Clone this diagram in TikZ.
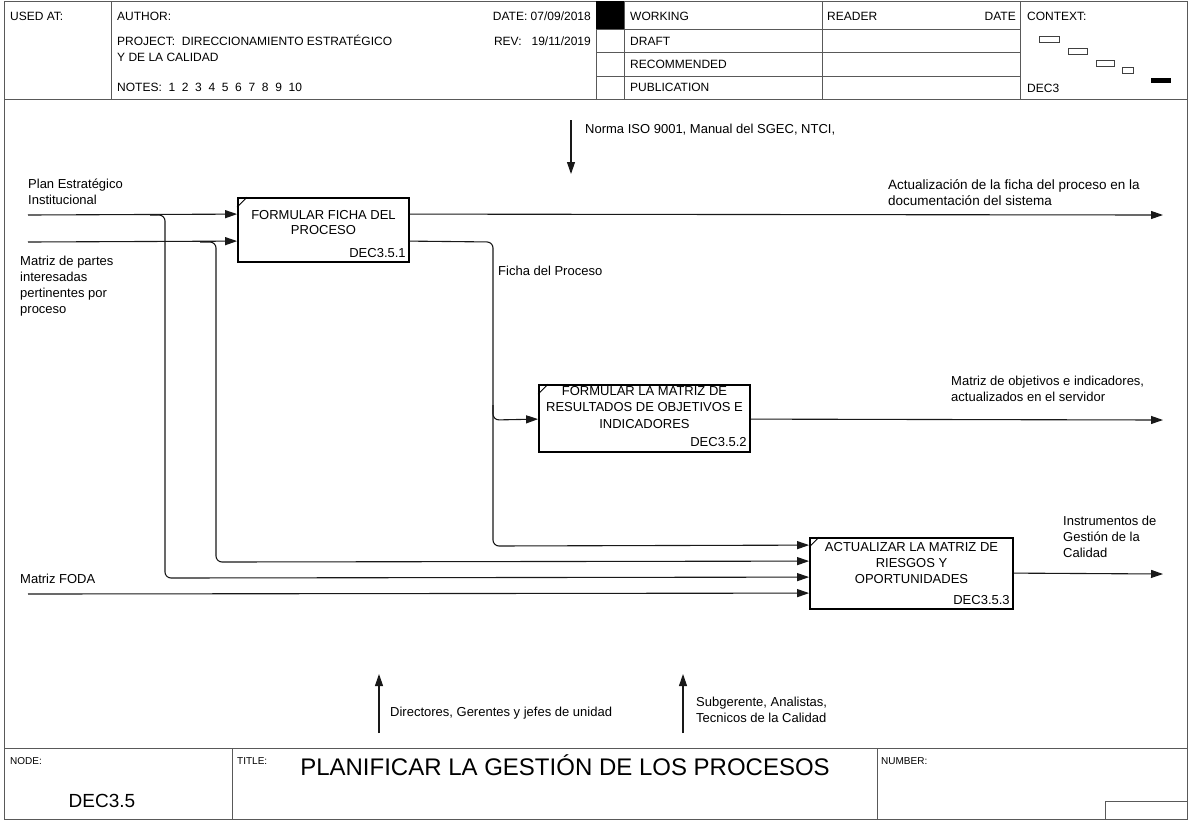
\documentclass[tikz,border=0pt]{standalone}
\usepackage{fontspec}
\setmainfont{Liberation Sans}
\usetikzlibrary{arrows.meta,calc}
\begin{document}
\begin{tikzpicture}[x=1pt,y=-1pt,
  frame/.style={draw=black!65,line width=0.9pt},
  hdr/.style={inner sep=0pt,anchor=base west,font=\fontsize{12}{14}\selectfont},
  lbl/.style={inner sep=0pt,anchor=north west,align=left,font=\fontsize{13}{16}\selectfont},
  abox/.style={draw=black,line width=1.8pt,inner sep=0pt},
  btext/.style={inner sep=0pt,anchor=north,align=center,font=\fontsize{13}{16}\selectfont},
  bnum/.style={inner sep=0pt,anchor=south east,font=\fontsize{13}{16}\selectfont},
  conn/.style={draw=black!90,line width=1.1pt,rounded corners=6pt},
  arr/.style={conn,-{Triangle[length=12pt,width=8pt]}}
]
\useasboundingbox (0,0) rectangle (1188,820);
\fill[white] (0,0) rectangle (1188,820);

% ---------- frame ----------
\draw[frame] (4,1) rectangle (1187,819);
\draw[frame] (4,99) -- (1187,99);
\draw[frame] (111,1) -- (111,99);
\draw[frame] (596,1) -- (596,99);
\draw[frame] (624,1) -- (624,99);
\draw[frame] (822,1) -- (822,99);
\draw[frame] (1020,1) -- (1020,99);
\draw[frame] (596,29) -- (1020,29);
\draw[frame] (596,52) -- (1020,52);
\draw[frame] (596,76) -- (1020,76);
\fill[black] (596,1) rectangle (624,29);

% header texts
\node[hdr] (usedat) at (10,20) {USED AT:};
\node[hdr] (author) at (117,20) {AUTHOR:};
\node[hdr] (project) at (117,45) {PROJECT:\ \ DIRECCIONAMIENTO ESTRATÉGICO};
\node[hdr] (project2) at (117,61) {Y DE LA CALIDAD};
\node[hdr] (notes) at (117,91) {NOTES:\ \ 1\ \ 2\ \ 3\ \ 4\ \ 5\ \ 6\ \ 7\ \ 8\ \ 9\ \ 10};
\node[hdr,anchor=base east] (date) at (591,20) {DATE:\ 07/09/2018};
\node[hdr,anchor=base east] (rev) at (591,45) {REV:\ \ \ 19/11/2019};
\node[hdr] (working) at (630,20) {WORKING};
\node[hdr] (draft) at (630,45) {DRAFT};
\node[hdr] (recom) at (630,68) {RECOMMENDED};
\node[hdr] (publ) at (630,91) {PUBLICATION};
\node[hdr] (reader) at (827,20) {READER};
\node[hdr,anchor=base east] (rdate) at (1016,20) {DATE};
\node[hdr] (context) at (1027,20) {CONTEXT:};
\node[hdr] (dec3) at (1027,92) {DEC3};

% context glyphs
\draw[draw=black!75,line width=0.8pt] (1039,36) rectangle (1059,42);
\draw[draw=black!75,line width=0.8pt] (1068,48) rectangle (1087,54);
\draw[draw=black!75,line width=0.8pt] (1096,60) rectangle (1114,66);
\draw[draw=black!75,line width=0.8pt] (1122,67) rectangle (1133,73);
\fill[black] (1151,78) rectangle (1171,83);

% ---------- footer ----------
\draw[frame] (4,748) -- (1187,748);
\draw[frame] (232,748) -- (232,819);
\draw[frame] (877,748) -- (877,819);
\draw[frame] (1105,819) |- (1187,801);
\node[inner sep=0pt,anchor=base west,font=\fontsize{10}{12}\selectfont] (nodelbl) at (10,764) {NODE:};
\node[inner sep=0pt,anchor=base west,font=\fontsize{10}{12}\selectfont] (titlelbl) at (237,764) {TITLE:};
\node[inner sep=0pt,anchor=base west,font=\fontsize{10}{12}\selectfont] (numlbl) at (881,764) {NUMBER:};
\node[inner sep=0pt,anchor=base,font=\fontsize{19}{22}\selectfont] (nodeid) at (102,807) {DEC3.5};
\node[inner sep=0pt,anchor=base,font=\fontsize{24}{28}\selectfont] (title) at (565,775) {PLANIFICAR LA GESTIÓN DE LOS PROCESOS};

% ---------- activity boxes ----------
\node[abox,minimum width=171pt,minimum height=64pt] (b1) at (323.5,230) {};
\node[abox,minimum width=211pt,minimum height=67pt] (b2) at (644.5,418.5) {};
\node[abox,minimum width=203pt,minimum height=71pt] (b3) at (911.5,573.5) {};
\foreach \b in {b1,b2,b3}{
  \draw[line width=1pt] ($(\b.north west)+(0,10)$) -- ($(\b.north west)+(10,0)$);
}
\node[btext,font=\fontsize{13}{15}\selectfont] (b1t) at ($(b1.north)+(0,13)$) {FORMULAR FICHA DEL\\PROCESO};
\node[bnum] (b1n) at ($(b1.south east)+(-4,-5)$) {DEC3.5.1};
\node[btext,font=\fontsize{13}{16.5}\selectfont] (b2t) at ($(b2.north)+(0,2)$) {FORMULAR LA MATRIZ DE\\RESULTADOS DE OBJETIVOS E\\INDICADORES};
\node[bnum] (b2n) at ($(b2.south east)+(-4,-6)$) {DEC3.5.2};
\node[btext] (b3t) at ($(b3.north)+(0,5)$) {ACTUALIZAR LA MATRIZ DE\\RIESGOS Y\\OPORTUNIDADES};
\node[bnum] (b3n) at ($(b3.south east)+(-4,-5)$) {DEC3.5.3};

% port coordinates
\coordinate (b1i1) at ($(b1.north west)+(0,17)$);
\coordinate (b1i2) at ($(b1.north west)+(0,44)$);
\coordinate (b1o1) at ($(b1.north east)+(0,17)$);
\coordinate (b1o2) at ($(b1.north east)+(0,44)$);
\coordinate (b2i) at ($(b2.north west)+(0,35)$);
\coordinate (b2o) at ($(b2.north east)+(0,35)$);
\coordinate (b3i1) at ($(b3.north west)+(0,8)$);
\coordinate (b3i2) at ($(b3.north west)+(0,24)$);
\coordinate (b3i3) at ($(b3.north west)+(0,40)$);
\coordinate (b3i4) at ($(b3.north west)+(0,56)$);
\coordinate (b3o) at ($(b3.north east)+(0,36)$);

% free ends
\coordinate (src1) at (28,215);
\coordinate (src2) at (28,242);
\coordinate (src3) at (28,594);
\coordinate (j1) at (150,215);
\coordinate (j2) at (200,242);
\coordinate (j3) at (493,405);
\coordinate (e1) at (1163,215);
\coordinate (e2) at (1163,420);
\coordinate (e3) at (1163,574);
\coordinate (c1) at (571,120);
\coordinate (c1e) at (571,174);
\coordinate (m1) at (379,733);
\coordinate (m1e) at (379,674);
\coordinate (m2) at (683,733);
\coordinate (m2e) at (683,674);

% ---------- connectors ----------
\draw[arr] (src1) -- (b1i1);
\draw[arr] (src2) -- (b1i2);
\draw[arr] (j1) -- (165,215) -- (165,578) -- (b3i3);
\draw[arr] (j2) -- (216,242) -- (216,562) -- (b3i2);
\draw[arr] (src3) -- (b3i4);
\draw[arr] (b1o1) -- (e1);
\draw[arr] (b1o2) -- (493,242) -- (493,546) -- (b3i1);
\draw[arr] (j3) -- (493,420) -- (b2i);
\draw[arr] (b2o) -- (e2);
\draw[arr] (b3o) -- (e3);
\draw[arr] (c1) -- (c1e);
\draw[arr] (m1) -- (m1e);
\draw[arr] (m2) -- (m2e);

% ---------- labels ----------
\node[lbl] (l1) at (28,179) {Plan Estratégico\\Institucional};
\node[lbl] (l2) at (20,256) {Matriz de partes\\interesadas\\pertinentes por\\proceso};
\node[lbl] (l3) at (20,574) {Matriz FODA};
\node[lbl,font=\fontsize{13.5}{16}\selectfont] (l4) at (888,179) {Actualización de la ficha del proceso en la\\documentación del sistema};
\node[lbl] (l5) at (498,266) {Ficha del Proceso};
\node[lbl] (l6) at (951,376) {Matriz de objetivos e indicadores,\\actualizados en el servidor};
\node[lbl] (l7) at (1063,516) {Instrumentos de\\Gestión de la\\Calidad};
\node[lbl] (l8) at (585,124) {Norma ISO 9001, Manual del SGEC, NTCI,};
\node[lbl] (l9) at (390,707) {Directores, Gerentes y jefes de unidad};
\node[lbl] (l10) at (696,697) {Subgerente, Analistas,\\Tecnicos de la Calidad};
\end{tikzpicture}
\end{document}
